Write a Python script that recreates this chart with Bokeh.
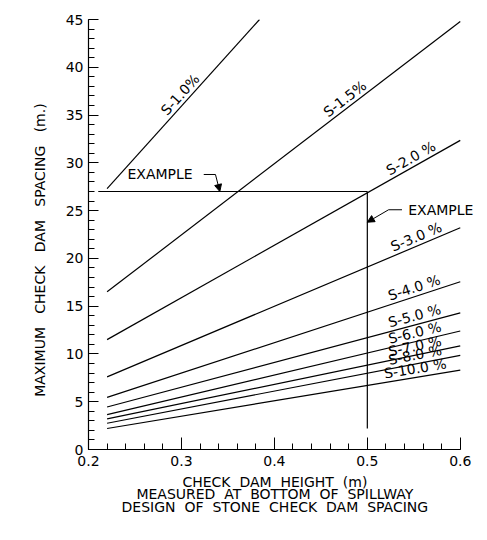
import math
from bokeh.plotting import figure
from bokeh.models import Range1d, Arrow, NormalHead, SingleIntervalTicker, ColumnDataSource
from bokeh.embed import file_html
from bokeh.resources import INLINE
from bokeh.core.properties import value

# ---- data ----
slope_names = ["S-1.0%", "S-1.5%", "S-2.0 %", "S-3.0 %", "S-4.0 %",
               "S-5.0 %", "S-6.0 %", "S-7.0 %", "S-8.0 %", "S-10.0 %"]
height_start = [0.22, 0.22, 0.22, 0.22, 0.22, 0.22, 0.22, 0.22, 0.22, 0.22]
spacing_start = [27.3, 16.5, 11.5, 7.6, 5.45, 4.45, 3.65, 3.2, 2.75, 2.2]
height_end = [0.384, 0.6, 0.6, 0.6, 0.6, 0.6, 0.6, 0.6, 0.6, 0.6]
spacing_end = [45.0, 44.8, 32.35, 23.2, 17.55, 14.3, 12.4, 10.85, 9.85, 8.3]
label_height = [0.305, 0.481, 0.551, 0.556, 0.553, 0.553, 0.553, 0.553, 0.553, 0.553]

example_height = 0.5
example_spacing = 27.0
example_line_start = 0.2105
example_line_bottom = 2.2

x_ticks_interval = 0.1
y_ticks_interval = 5

FONT = "DejaVu Sans"
FS = "14px"
NB = "\u00a0"
GAP = NB * 2 + " "

x0, x_axis_end, x1, y0, y1 = 0.2, 0.6, 0.625, 0.0, 45.0
FL, FT, FR, FB = 88, 19, 2, 81
px_x = 930.0
fw = int(round((x1 - x0) * px_x))
fh = 430
W = FL + fw + FR
H = FT + fh + FB
px_y = fh / (y1 - y0)

p = figure(width=W, height=H, x_range=Range1d(x0, x1), y_range=Range1d(y0, y1),
           output_backend="svg", toolbar_location=None,
           min_border_left=FL, min_border_top=FT, min_border_right=FR, min_border_bottom=FB)
p.grid.visible = False
p.outline_line_color = None
p.background_fill_color = "white"
p.border_fill_color = "white"

# axes
p.xaxis.ticker = SingleIntervalTicker(interval=x_ticks_interval, num_minor_ticks=5)
p.yaxis.ticker = SingleIntervalTicker(interval=y_ticks_interval, num_minor_ticks=5)
p.xaxis.bounds = (x0, x_axis_end + 0.0005)
for ax in (p.xaxis[0], p.yaxis[0]):
    ax.axis_line_color = "black"
    ax.axis_line_width = 1.2
    ax.major_tick_line_color = "black"
    ax.minor_tick_line_color = "black"
    ax.major_tick_out = 0
    ax.minor_tick_out = 0
    ax.major_label_text_font = FONT
    ax.major_label_text_font_size = FS
    ax.major_label_text_color = "black"
    ax.axis_label_text_font = FONT
    ax.axis_label_text_font_size = FS
    ax.axis_label_text_font_style = "normal"
    ax.axis_label_text_color = "black"
p.yaxis.major_tick_in = 10
p.yaxis.minor_tick_in = 6
p.xaxis.major_tick_in = 12
p.xaxis.minor_tick_in = 6
p.yaxis.major_label_standoff = 5
p.xaxis.major_label_standoff = 6

pad = NB * 5
p.xaxis.axis_label = ("CHECK" + NB + " DAM" + NB + " HEIGHT" + NB + " (m)" + pad + "\n"
                      "MEASURED" + NB + " AT" + NB + " BOTTOM" + NB + " OF" + NB + " SPILLWAY" + pad + "\n"
                      "DESIGN" + NB + " OF" + NB + " STONE" + NB + " CHECK" + NB + " DAM" + NB + " SPACING" + pad)
p.xaxis.axis_label_text_line_height = 0.8
p.xaxis.axis_label_standoff = 5

p.yaxis.axis_label = ("MAXIMUM" + GAP + "CHECK" + GAP + "DAM" + GAP + "SPACING" + GAP + "(m.)"
                      + NB * 7)
p.yaxis.axis_label_standoff = 15

# slope lines
p.segment(x0=height_start, y0=spacing_start, x1=height_end, y1=spacing_end,
          line_color="black", line_width=1.2)

# slope labels along lines
lx, ly, la = [], [], []
for xs, ys, xe, ye, xl in zip(height_start, spacing_start, height_end, spacing_end, label_height):
    slope = (ye - ys) / (xe - xs)
    lx.append(xl)
    ly.append(ys + slope * (xl - xs))
    la.append(math.atan(slope * px_y / px_x))
src = ColumnDataSource(dict(x=lx, y=ly, t=slope_names, a=la))
p.text(x="x", y="y", text="t", angle="a", source=src, text_align="center",
       text_baseline="bottom", y_offset=-1, text_font=value(FONT),
       text_font_size=FS, text_color="black")

# example lines
p.segment(x0=[example_line_start, example_height], y0=[example_spacing, example_spacing],
          x1=[example_height, example_height], y1=[example_spacing, example_line_bottom],
          line_color="black", line_width=1.2)

# example annotations
p.text(x=[0.2419, 0.544], y=[28.78, 25.09], text=["EXAMPLE", "EXAMPLE"],
       text_align="left", text_baseline="middle", text_font=value(FONT),
       text_font_size=FS, text_color="black")
p.line(x=[0.324, 0.3366], y=[28.78, 28.78], line_color="black", line_width=1)
p.line(x=[0.5373, 0.5229], y=[25.09, 25.09], line_color="black", line_width=1)
p.add_layout(Arrow(x_start=0.3366, y_start=28.78, x_end=0.3413, y_end=example_spacing,
                   line_color="black", line_width=1,
                   end=NormalHead(size=7, fill_color="black", line_color="black", line_width=1)))
p.add_layout(Arrow(x_start=0.5229, y_start=25.09, x_end=example_height, y_end=23.79,
                   line_color="black", line_width=1,
                   end=NormalHead(size=7, fill_color="black", line_color="black", line_width=1)))

open("out.html", "w").write(file_html(p, INLINE))
